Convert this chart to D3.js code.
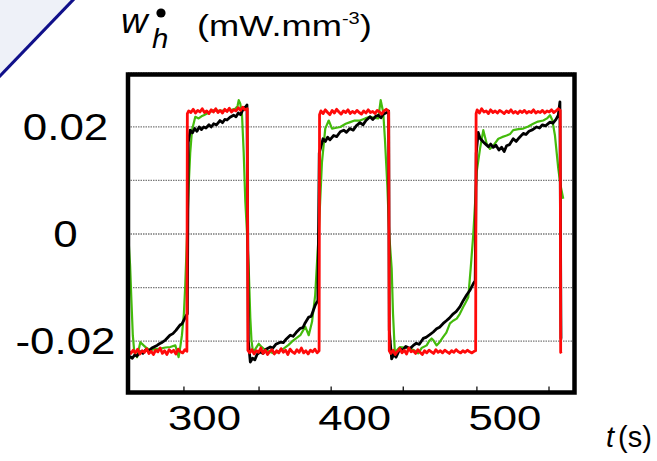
<!DOCTYPE html>
<html>
<head>
<meta charset="utf-8">
<script src="https://cdn.jsdelivr.net/npm/d3@7/dist/d3.min.js"></script>
<style>
    body { margin: 0; background: #fff; }
    text { font-family: "Liberation Sans", Arial, sans-serif; fill: #000; }
</style>
</head>
<body>
<script>
// Heat power w_h (mW.mm-3) against time t (s), three measured signals
// Each point is [t, w], read off the figure

var redSeries = [
    [249.1, 0.0094], [249.6, -0.0219], [251, -0.0224], [252.5, -0.0218],
    [254, -0.0223], [255.5, -0.0216], [257, -0.0225], [258.5, -0.0219],
    [260, -0.0222], [261.5, -0.0215], [263, -0.0224], [264.5, -0.0220],
    [266, -0.0226], [267.5, -0.0218], [269, -0.0221], [270.5, -0.0214],
    [272, -0.0224], [273.5, -0.0219], [275, -0.0226], [276.5, -0.0217],
    [278, -0.0222], [279.5, -0.0218], [281, -0.0225], [282.5, -0.0216],
    [284, -0.0221], [285.5, -0.0223], [287, -0.0217], [288.3, -0.0220],
    [288.6, 0.0224],
    [289.5, 0.0229], [291, 0.0226], [292.5, 0.0232], [294, 0.0225],
    [295.5, 0.0230], [297, 0.0227], [298.5, 0.0233], [300, 0.0226],
    [301.5, 0.0229], [303, 0.0224], [304.5, 0.0231], [306, 0.0227],
    [307.5, 0.0233], [309, 0.0226], [310.5, 0.0230], [312, 0.0225],
    [313.5, 0.0232], [315, 0.0228], [316.5, 0.0234], [318, 0.0227],
    [319.5, 0.0231], [321, 0.0229], [322.5, 0.0235], [324, 0.0230],
    [325.5, 0.0236], [327, 0.0231], [328.5, 0.0233],
    [328.9, -0.0218],
    [330, -0.0223], [331.5, -0.0217], [333, -0.0225], [334.5, -0.0219],
    [336, -0.0222], [337.5, -0.0214], [339, -0.0224], [340.5, -0.0218],
    [342, -0.0226], [343.5, -0.0220], [345, -0.0217], [346.5, -0.0225],
    [348, -0.0219], [349.5, -0.0223], [351, -0.0215], [352.5, -0.0222],
    [354, -0.0218], [355.5, -0.0226], [357, -0.0216], [358.5, -0.0221],
    [360, -0.0224], [361.5, -0.0217], [363, -0.0222], [364.5, -0.0214],
    [366, -0.0223], [367.5, -0.0219], [369, -0.0225], [370.5, -0.0218],
    [372, -0.0221], [373.5, -0.0216], [375, -0.0223], [376.3, -0.0219],
    [376.6, 0.0222],
    [377.5, 0.0229], [379, 0.0224], [380.5, 0.0231], [382, 0.0226],
    [383.5, 0.0222], [385, 0.0230], [386.5, 0.0225], [388, 0.0232],
    [389.5, 0.0227], [391, 0.0223], [392.5, 0.0229], [394, 0.0226],
    [395.5, 0.0231], [397, 0.0224], [398.5, 0.0228], [400, 0.0225],
    [401.5, 0.0230], [403, 0.0226], [404.5, 0.0223], [406, 0.0229],
    [407.5, 0.0225], [409, 0.0231], [410.5, 0.0226], [412, 0.0228],
    [413.5, 0.0224], [415, 0.0230], [416.5, 0.0227], [418, 0.0223],
    [419.5, 0.0229], [421, 0.0232], [422.6, 0.0228],
    [423.0, -0.0219],
    [424, -0.0224], [425.5, -0.0218], [427, -0.0226], [428.5, -0.0220],
    [430, -0.0215], [431.5, -0.0223], [433, -0.0218], [434.5, -0.0225],
    [436, -0.0214], [437.5, -0.0221], [439, -0.0219], [440.5, -0.0224],
    [442, -0.0217], [443.5, -0.0222], [445, -0.0226], [446.5, -0.0219],
    [448, -0.0223], [449.5, -0.0218], [451, -0.0221], [452.5, -0.0224],
    [454, -0.0217], [455.5, -0.0222], [457, -0.0219], [458.5, -0.0223],
    [460, -0.0218], [461.5, -0.0221], [463, -0.0224], [464.5, -0.0219],
    [466, -0.0222], [467.5, -0.0217], [469, -0.0221], [470.5, -0.0223],
    [472, -0.0219], [473.5, -0.0222], [475, -0.0218], [476.5, -0.0221],
    [478, -0.0223], [479.5, -0.0220], [480.5, -0.0219],
    [480.8, 0.0224],
    [481.5, 0.0231], [483, 0.0225], [484.5, 0.0233], [486, 0.0227],
    [487.5, 0.0229], [489, 0.0224], [490.5, 0.0231], [492, 0.0226],
    [493.5, 0.0229], [495, 0.0225], [496.5, 0.0230], [498, 0.0227],
    [499.5, 0.0224], [501, 0.0229], [502.5, 0.0226], [504, 0.0231],
    [505.5, 0.0225], [507, 0.0228], [508.5, 0.0224], [510, 0.0229],
    [511.5, 0.0226], [513, 0.0230], [514.5, 0.0225], [516, 0.0228],
    [517.5, 0.0226], [519, 0.0231], [520.5, 0.0225], [522, 0.0228],
    [523.5, 0.0226], [525, 0.0230], [526.5, 0.0225], [528, 0.0229],
    [529.5, 0.0227], [531, 0.0231], [532.5, 0.0226], [534, 0.0229],
    [535.5, 0.0233], [536.8, 0.0230],
    [537.1, -0.0222], [537.5, -0.0224]
];

var blackSeries = [
    [249.1, -0.0235], [250.5, -0.0230], [252, -0.0233], [253.5, -0.0227],
    [255, -0.0229], [257.3, -0.0221], [259, -0.0224], [261, -0.0217],
    [263, -0.0219], [265, -0.0214], [268.4, -0.0209], [270, -0.0206],
    [272, -0.0203], [274, -0.0199], [277, -0.0190], [279, -0.0187],
    [281, -0.0181], [283.7, -0.0171], [285, -0.0169], [287.2, -0.0157],
    [288.6, -0.0150],
    [289.2, 0.0170], [290.5, 0.0193], [292, 0.0188], [293.5, 0.0196],
    [295, 0.0191], [296.5, 0.0199], [298, 0.0194], [299.5, 0.0199],
    [301, 0.0197], [303, 0.0203], [304.5, 0.0199], [306.1, 0.0205],
    [308, 0.0203], [310.3, 0.0211], [312, 0.0207], [313.5, 0.0213],
    [315, 0.0212], [317, 0.0217], [319.4, 0.0221], [321, 0.0218],
    [322.5, 0.0225], [324, 0.0222], [326.1, 0.0234], [327.6, 0.0237],
    [328.3, 0.0240],
    [329.2, -0.0200], [330.5, -0.0240], [332, -0.0233], [333.5, -0.0236],
    [335, -0.0226], [337.1, -0.0221], [339, -0.0224], [341, -0.0216],
    [343.8, -0.0212], [345.5, -0.0214], [347.5, -0.0207], [350.5, -0.0203],
    [352.5, -0.0204], [354.5, -0.0197], [357.1, -0.0190], [359, -0.0192],
    [361, -0.0185], [363.8, -0.0177], [365.5, -0.0176], [367, -0.0167],
    [369.4, -0.0156], [371, -0.0155], [373.7, -0.0134], [375.5, -0.0125],
    [376.4, 0.0150], [378.9, 0.0177], [380.5, 0.0172], [382, 0.0180],
    [383.5, 0.0175], [386, 0.0183], [388, 0.0181], [390.4, 0.0190],
    [392.7, 0.0193], [394.5, 0.0189], [396.8, 0.0196], [399, 0.0193],
    [401, 0.0201], [403.5, 0.0207], [405.5, 0.0203], [407.5, 0.0211],
    [410.2, 0.0218], [412, 0.0213], [414, 0.0219], [415.7, 0.0221],
    [417.5, 0.0216], [419, 0.0223], [421.3, 0.0226], [422.6, 0.0229],
    [423.0, -0.0180], [424.6, -0.0234], [426, -0.0226], [427.5, -0.0231],
    [430.1, -0.0215], [432, -0.0218], [434, -0.0211], [436.8, -0.0215],
    [439, -0.0209], [441, -0.0205], [443, -0.0207], [445.6, -0.0196],
    [447.5, -0.0194], [450, -0.0189], [452.3, -0.0184], [454.5, -0.0178],
    [456.5, -0.0175], [458.9, -0.0168], [461, -0.0163], [463, -0.0158],
    [465.6, -0.0150], [467.5, -0.0146], [470, -0.0137], [472.3, -0.0125],
    [474.5, -0.0115], [476.5, -0.0107], [478.9, -0.0094], [480.2, -0.0088],
    [480.9, 0.0150], [482.2, 0.0189], [483.4, 0.0178], [485.6, 0.0171],
    [487.5, 0.0166], [489, 0.0162], [490.5, 0.0167], [492.2, 0.0161],
    [494, 0.0165], [496, 0.0156], [497.8, 0.0161], [499.5, 0.0153],
    [501.1, 0.0164], [503, 0.0166], [505.5, 0.0177], [507.5, 0.0172],
    [509.5, 0.0179], [512.2, 0.0187], [514, 0.0185], [516, 0.0191],
    [518.5, 0.0194], [521.1, 0.0199], [523, 0.0197], [525, 0.0203],
    [527, 0.0201], [530, 0.0208], [532, 0.0206], [534, 0.0213],
    [535.5, 0.0221], [536.6, 0.0246],
    [537.3, -0.0196], [538.1, -0.0196]
];

var greenSeries = [
    [249.1, 0.0006], [250.5, -0.0060], [251.3, -0.0120], [252.3, -0.0190],
    [253.3, -0.0222], [255.1, -0.0231], [257.3, -0.0203], [259.5, -0.0209],
    [261.5, -0.0214], [263.9, -0.0218], [267, -0.0216], [270.6, -0.0215],
    [274, -0.0213], [277.2, -0.0212], [280.6, -0.0209], [282.8, -0.0231],
    [284, -0.0210], [285, -0.0190], [286.3, -0.0150], [287.2, -0.0097],
    [288.4, -0.0003], [289.5, 0.0090], [290.5, 0.0150], [291.7, 0.0193],
    [293.9, 0.0218], [296.1, 0.0215], [298, 0.0219], [299.5, 0.0221],
    [303, 0.0226], [306.1, 0.0230], [310, 0.0229], [315, 0.0230],
    [318, 0.0231], [320.5, 0.0233], [322, 0.0238], [322.8, 0.0249],
    [323.8, 0.0243], [325, 0.0221], [326.1, 0.0152], [327.2, 0.0059],
    [328.4, -0.0003], [329.4, -0.0060], [330.5, -0.0157], [331.3, -0.0200],
    [332.3, -0.0221], [334, -0.0215], [336.1, -0.0206], [338, -0.0212],
    [339.4, -0.0215], [342, -0.0219], [346.1, -0.0224], [349, -0.0221],
    [352.7, -0.0215], [356, -0.0208], [359.4, -0.0199], [363.8, -0.0190],
    [367.1, -0.0174], [369.4, -0.0190], [371.6, -0.0165], [373.7, -0.0115],
    [375.3, -0.0035], [376, -0.0003], [377, 0.0060], [378.2, 0.0133],
    [380.4, 0.0196], [382.7, 0.0211], [384.9, 0.0196], [387, 0.0197],
    [390.4, 0.0199], [394, 0.0205], [397, 0.0208], [400, 0.0211],
    [403.5, 0.0211], [407, 0.0215], [410.2, 0.0218], [413, 0.0216],
    [415.7, 0.0215], [417.3, 0.0249], [419, 0.0226], [420.1, 0.0177],
    [421.7, 0.0090], [423, -0.0003], [424.6, -0.0065], [425.5, -0.0150],
    [426.8, -0.0227], [428, -0.0218], [430.1, -0.0212], [433, -0.0213],
    [436.8, -0.0215], [439.5, -0.0218], [442.3, -0.0224], [444.5, -0.0214],
    [447.9, -0.0209], [449.5, -0.0201], [451.2, -0.0196], [452.5, -0.0200],
    [454.5, -0.0209], [456.5, -0.0203], [458.9, -0.0193], [461, -0.0185],
    [463.4, -0.0168], [465.5, -0.0163], [467.9, -0.0159], [470, -0.0150],
    [472.3, -0.0137], [474, -0.0128], [475.6, -0.0119], [477.2, -0.0065],
    [478.9, -0.0003], [480.2, 0.0060], [481.2, 0.0115], [483.4, 0.0158],
    [485.6, 0.0193], [487.8, 0.0168], [490, 0.0158], [492.5, 0.0165],
    [495.6, 0.0177], [498, 0.0180], [501.1, 0.0183], [503.5, 0.0186],
    [505.5, 0.0193], [509, 0.0195], [512.2, 0.0196], [515.5, 0.0200],
    [518.8, 0.0205], [522, 0.0209], [525.5, 0.0211], [528, 0.0215],
    [530, 0.0221], [531.5, 0.0212], [533.3, 0.0183], [535.5, 0.0121],
    [537, 0.0090], [538.8, 0.0065]
];

// Axis values
var xLabels = [300, 400, 500];
var xTickMarks = [286, 336, 384, 432, 481, 529];
var yLabels = [0.02, 0, -0.02];
var yGrid = [0.0301, 0.02, 0.01, 0, -0.01, -0.02];

var width = 657, height = 461;
var plot = {left: 128, right: 574.5, top: 74.5, bottom: 392.5};

var svg = d3.select("body").append("svg")
    .attr("width", width)
    .attr("height", height);

// Scales
var xScale = d3.scaleLinear().domain([249.1, 546.3])
    .range([plot.left, plot.right]);
var yScale = d3.scaleLinear().domain([-0.0297, 0.0297])
    .range([plot.bottom, plot.top]);

// Little shaded corner with the blue diagonal (top left)
svg.append("path")
    .attr("d", "M0,0 L73,0 L0,76 Z")
    .attr("fill", "#eef1f8");
svg.append("line")
    .attr("x1", -1).attr("y1", 77).attr("x2", 74).attr("y2", -1)
    .attr("stroke", "#10108a")
    .attr("stroke-width", 3.2);

// Dotted gridlines
svg.append("g")
    .attr("transform", "translate(" + plot.left + ",0)")
    .call(d3.axisLeft(yScale).tickValues(yGrid)
        .tickSize(-(plot.right - plot.left)).tickFormat(""))
    .call(function(g) { g.select(".domain").remove(); })
    .selectAll("line")
    .attr("stroke", "#7a7a7a")
    .attr("stroke-width", 1.3)
    .attr("stroke-dasharray", "1.5,1");

// Tick marks pointing inward from the bottom edge
svg.append("g")
    .attr("transform", "translate(0," + plot.bottom + ")")
    .call(d3.axisBottom(xScale).tickValues(xTickMarks)
        .tickSize(-6).tickFormat(""))
    .call(function(g) { g.select(".domain").remove(); })
    .selectAll("line")
    .attr("stroke", "#222")
    .attr("stroke-width", 1.4);

// Curves: green first, then black, red on top
var line = d3.line()
    .x(function(d) { return xScale(d[0]); })
    .y(function(d) { return yScale(d[1]); });

svg.append("path").datum(greenSeries)
    .attr("d", line)
    .attr("fill", "none")
    .attr("stroke", "#44bb0c")
    .attr("stroke-width", 2.2)
    .attr("stroke-linejoin", "round");

svg.append("path").datum(blackSeries)
    .attr("d", line)
    .attr("fill", "none")
    .attr("stroke", "#000")
    .attr("stroke-width", 2.8)
    .attr("stroke-linejoin", "round");

svg.append("path").datum(redSeries)
    .attr("d", line)
    .attr("fill", "none")
    .attr("stroke", "#ff0a0a")
    .attr("stroke-width", 2.8)
    .attr("stroke-linejoin", "round");

// Thick frame
svg.append("rect")
    .attr("x", plot.left).attr("y", plot.top)
    .attr("width", plot.right - plot.left)
    .attr("height", plot.bottom - plot.top)
    .attr("fill", "none")
    .attr("stroke", "#000")
    .attr("stroke-width", 4.5);

// Text in the figure is a bit wider than plain Arial, so stretch it
function stretched(x, y, sx) {
    return "translate(" + x + "," + y + ") scale(" + sx + ",1)";
}

// y labels, centred under each other
svg.selectAll("text.ylab")
    .data(yLabels)
    .enter()
    .append("text")
    .attr("class", "ylab")
    .attr("text-anchor", "middle")
    .attr("font-size", "37.5px")
    .attr("transform", function(d) {
        return stretched(65.5, yScale(d) + 13.5, 1.17);
    })
    .text(function(d) { return d === 0 ? "0" : d.toFixed(2); });

// x labels
svg.selectAll("text.xlab")
    .data(xLabels)
    .enter()
    .append("text")
    .attr("class", "xlab")
    .attr("text-anchor", "middle")
    .attr("font-size", "35px")
    .attr("transform", function(d) { return stretched(xScale(d), 430, 1.25); })
    .text(function(d) { return d; });

// x axis title: t (s)
var xt = svg.append("text")
    .attr("font-size", "29px")
    .attr("transform", stretched(606, 447, 1.0));
xt.append("tspan").attr("font-style", "italic").text("t");
xt.append("tspan").attr("dx", 4).text("(s)");

// y axis title: w_h with a dot, then (mW.mm-3)
svg.append("text")
    .attr("font-size", "35px")
    .attr("font-style", "italic")
    .attr("transform", stretched(121, 33, 1.05))
    .text("w");
svg.append("circle")
    .attr("cx", 161).attr("cy", 13).attr("r", 4.6)
    .attr("fill", "#000");
svg.append("text")
    .attr("font-size", "28px")
    .attr("font-style", "italic")
    .attr("transform", stretched(152, 48, 1.05))
    .text("h");

var unit = svg.append("text")
    .attr("font-size", "29px")
    .attr("transform", stretched(197, 36, 1.25));
unit.append("tspan").text("(mW.mm");
unit.append("tspan").attr("font-size", "16px").attr("dy", -12).text("-3");
unit.append("tspan").attr("dy", 12).text(")");
</script>
</body>
</html>
